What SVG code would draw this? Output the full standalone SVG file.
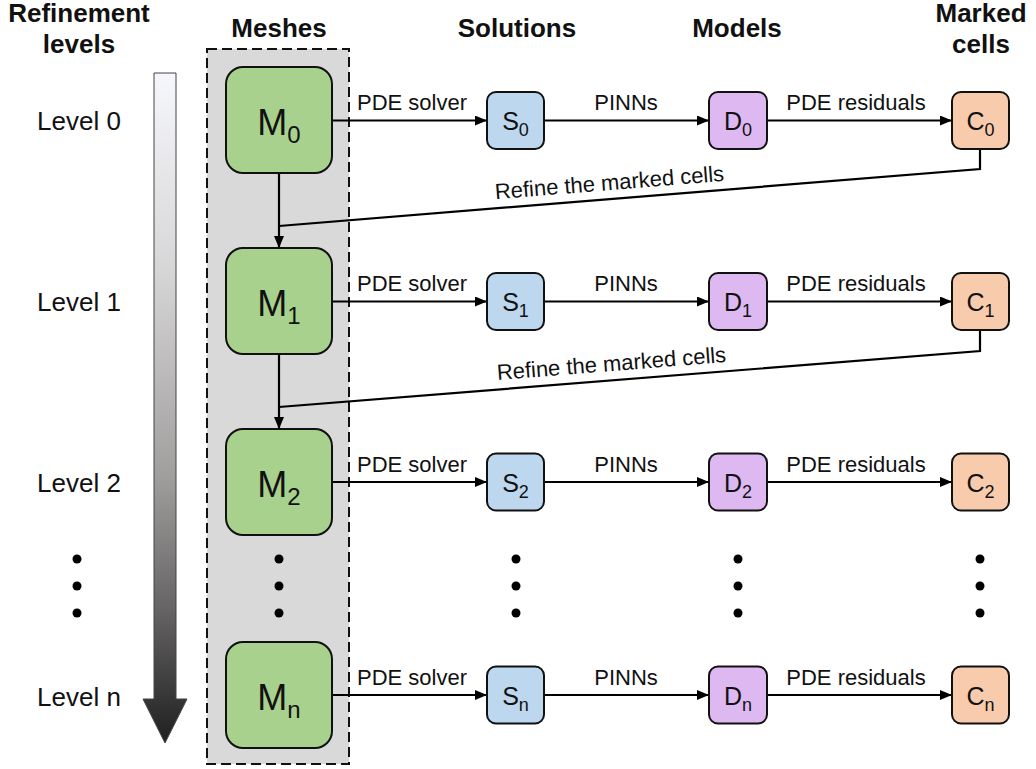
<svg xmlns="http://www.w3.org/2000/svg" width="1036" height="769" viewBox="0 0 1036 769">
<style>
text{font-family:"Liberation Sans",Arial,sans-serif;fill:#111}
.hdr{font-size:26px;font-weight:bold;text-anchor:middle}
.lvl{font-size:26px;text-anchor:middle}
.lbl{font-size:22px;text-anchor:middle}
.mt{font-size:36px;text-anchor:middle}
.st{font-size:25px;text-anchor:middle}
.sub{font-size:18px}
.msub{font-size:24px}
.m{fill:#a9d18e;stroke:#111;stroke-width:2}
.s{fill:#bdd7ee;stroke:#111;stroke-width:2}
.d{fill:#ddb8f1;stroke:#111;stroke-width:2}
.c{fill:#f8cbad;stroke:#111;stroke-width:2}
.e{fill:none;stroke:#000;stroke-width:2.2}
.dot{fill:#000}
</style>
<defs>
<marker id="ah" viewBox="0 0 12 10" refX="12" refY="5" markerWidth="12" markerHeight="10" markerUnits="userSpaceOnUse" orient="auto">
<path d="M0,0 L12,5 L0,10 Z" fill="#000"/>
</marker>
<linearGradient id="grad" gradientUnits="userSpaceOnUse" x1="0" y1="73" x2="0" y2="743">
<stop offset="0" stop-color="#f6f7fc"/>
<stop offset="0.3" stop-color="#d6d5d6"/>
<stop offset="0.6" stop-color="#a19e9e"/>
<stop offset="0.8" stop-color="#666464"/>
<stop offset="1" stop-color="#1f1f1f"/>
</linearGradient>
</defs>

<g id="headers">
<text class="hdr" x="79" y="22">Refinement</text>
<text class="hdr" x="79" y="53">levels</text>
<text class="hdr" x="279" y="37">Meshes</text>
<text class="hdr" x="517" y="37">Solutions</text>
<text class="hdr" x="737" y="37">Models</text>
<text class="hdr" x="981" y="22">Marked</text>
<text class="hdr" x="981" y="53">cells</text>
</g>

<g id="level-arrow">
<path d="M154,73 L176,73 L176,699 L187,699 L165,743 L143,699 L154,699 Z" fill="url(#grad)" stroke="#444" stroke-width="1"/>
</g>

<g id="levels">
<text class="lvl" x="79" y="130">Level 0</text>
<text class="lvl" x="79" y="311">Level 1</text>
<text class="lvl" x="79" y="492">Level 2</text>
<text class="lvl" x="79" y="706">Level n</text>
<circle class="dot" cx="77" cy="559" r="4.5"/>
<circle class="dot" cx="77" cy="586" r="4.5"/>
<circle class="dot" cx="77" cy="613" r="4.5"/>
</g>

<g id="mesh-panel">
<rect x="207" y="49" width="142" height="715" fill="#d9d9d9" stroke="#111" stroke-width="2" stroke-dasharray="10,5"/>
</g>

<g id="connectors">
<line class="e" x1="279" y1="173" x2="279" y2="248" marker-end="url(#ah)"/>
<line class="e" x1="279" y1="354" x2="279" y2="429" marker-end="url(#ah)"/>
<polyline class="e" points="980,149 980,169 279,226"/>
<polyline class="e" points="980,330 980,351 279,407"/>
<text class="lbl" transform="translate(610,190) rotate(-4.6)">Refine the marked cells</text>
<text class="lbl" transform="translate(612,371) rotate(-4.5)">Refine the marked cells</text>
<line class="e" x1="332" y1="120.5" x2="487" y2="120.5" marker-end="url(#ah)"/>
<line class="e" x1="544" y1="120.5" x2="709" y2="120.5" marker-end="url(#ah)"/>
<line class="e" x1="767" y1="120.5" x2="952" y2="120.5" marker-end="url(#ah)"/>
<text class="lbl" x="412" y="110">PDE solver</text>
<text class="lbl" x="626" y="110">PINNs</text>
<text class="lbl" x="856" y="110">PDE residuals</text>
<line class="e" x1="332" y1="301.5" x2="487" y2="301.5" marker-end="url(#ah)"/>
<line class="e" x1="544" y1="301.5" x2="709" y2="301.5" marker-end="url(#ah)"/>
<line class="e" x1="767" y1="301.5" x2="952" y2="301.5" marker-end="url(#ah)"/>
<text class="lbl" x="412" y="291">PDE solver</text>
<text class="lbl" x="626" y="291">PINNs</text>
<text class="lbl" x="856" y="291">PDE residuals</text>
<line class="e" x1="332" y1="482" x2="487" y2="482" marker-end="url(#ah)"/>
<line class="e" x1="544" y1="482" x2="709" y2="482" marker-end="url(#ah)"/>
<line class="e" x1="767" y1="482" x2="952" y2="482" marker-end="url(#ah)"/>
<text class="lbl" x="412" y="472">PDE solver</text>
<text class="lbl" x="626" y="472">PINNs</text>
<text class="lbl" x="856" y="472">PDE residuals</text>
<line class="e" x1="332" y1="695" x2="487" y2="695" marker-end="url(#ah)"/>
<line class="e" x1="544" y1="695" x2="709" y2="695" marker-end="url(#ah)"/>
<line class="e" x1="767" y1="695" x2="952" y2="695" marker-end="url(#ah)"/>
<text class="lbl" x="412" y="685">PDE solver</text>
<text class="lbl" x="626" y="685">PINNs</text>
<text class="lbl" x="856" y="685">PDE residuals</text>
</g>

<g id="M0"><rect class="m" x="226" y="67" width="106" height="106" rx="17"/><text class="mt" x="279" y="135">M<tspan class="msub" dy="8">0</tspan></text></g>
<g id="M1"><rect class="m" x="226" y="248" width="106" height="106" rx="17"/><text class="mt" x="279" y="316">M<tspan class="msub" dy="8">1</tspan></text></g>
<g id="M2"><rect class="m" x="226" y="429" width="106" height="106" rx="17"/><text class="mt" x="279" y="497">M<tspan class="msub" dy="8">2</tspan></text></g>
<g id="Mn"><rect class="m" x="226" y="642" width="106" height="106" rx="17"/><text class="mt" x="279" y="710">M<tspan class="msub" dy="8">n</tspan></text></g>

<g id="S0"><rect class="s" x="487" y="92" width="57" height="57" rx="9"/><text class="st" x="515.5" y="130">S<tspan class="sub" dy="6">0</tspan></text></g>
<g id="S1"><rect class="s" x="487" y="273" width="57" height="57" rx="9"/><text class="st" x="515.5" y="311">S<tspan class="sub" dy="6">1</tspan></text></g>
<g id="S2"><rect class="s" x="487" y="453.5" width="57" height="57" rx="9"/><text class="st" x="515.5" y="491.5">S<tspan class="sub" dy="6">2</tspan></text></g>
<g id="Sn"><rect class="s" x="487" y="666.5" width="57" height="57" rx="9"/><text class="st" x="515.5" y="704.5">S<tspan class="sub" dy="6">n</tspan></text></g>

<g id="D0"><rect class="d" x="709" y="92" width="58" height="57" rx="9"/><text class="st" x="738" y="130">D<tspan class="sub" dy="6">0</tspan></text></g>
<g id="D1"><rect class="d" x="709" y="273" width="58" height="57" rx="9"/><text class="st" x="738" y="311">D<tspan class="sub" dy="6">1</tspan></text></g>
<g id="D2"><rect class="d" x="709" y="453.5" width="58" height="57" rx="9"/><text class="st" x="738" y="491.5">D<tspan class="sub" dy="6">2</tspan></text></g>
<g id="Dn"><rect class="d" x="709" y="666.5" width="58" height="57" rx="9"/><text class="st" x="738" y="704.5">D<tspan class="sub" dy="6">n</tspan></text></g>

<g id="C0"><rect class="c" x="952" y="92" width="57" height="57" rx="9"/><text class="st" x="980.5" y="130">C<tspan class="sub" dy="6">0</tspan></text></g>
<g id="C1"><rect class="c" x="952" y="273" width="57" height="57" rx="9"/><text class="st" x="980.5" y="311">C<tspan class="sub" dy="6">1</tspan></text></g>
<g id="C2"><rect class="c" x="952" y="453.5" width="57" height="57" rx="9"/><text class="st" x="980.5" y="491.5">C<tspan class="sub" dy="6">2</tspan></text></g>
<g id="Cn"><rect class="c" x="952" y="666.5" width="57" height="57" rx="9"/><text class="st" x="980.5" y="704.5">C<tspan class="sub" dy="6">n</tspan></text></g>

<g id="ellipses">
<circle class="dot" cx="279" cy="559" r="4.5"/><circle class="dot" cx="279" cy="586" r="4.5"/><circle class="dot" cx="279" cy="613" r="4.5"/>
<circle class="dot" cx="516" cy="559" r="4.5"/><circle class="dot" cx="516" cy="586" r="4.5"/><circle class="dot" cx="516" cy="613" r="4.5"/>
<circle class="dot" cx="738" cy="559" r="4.5"/><circle class="dot" cx="738" cy="586" r="4.5"/><circle class="dot" cx="738" cy="613" r="4.5"/>
<circle class="dot" cx="980" cy="559" r="4.5"/><circle class="dot" cx="980" cy="586" r="4.5"/><circle class="dot" cx="980" cy="613" r="4.5"/>
</g>
</svg>
